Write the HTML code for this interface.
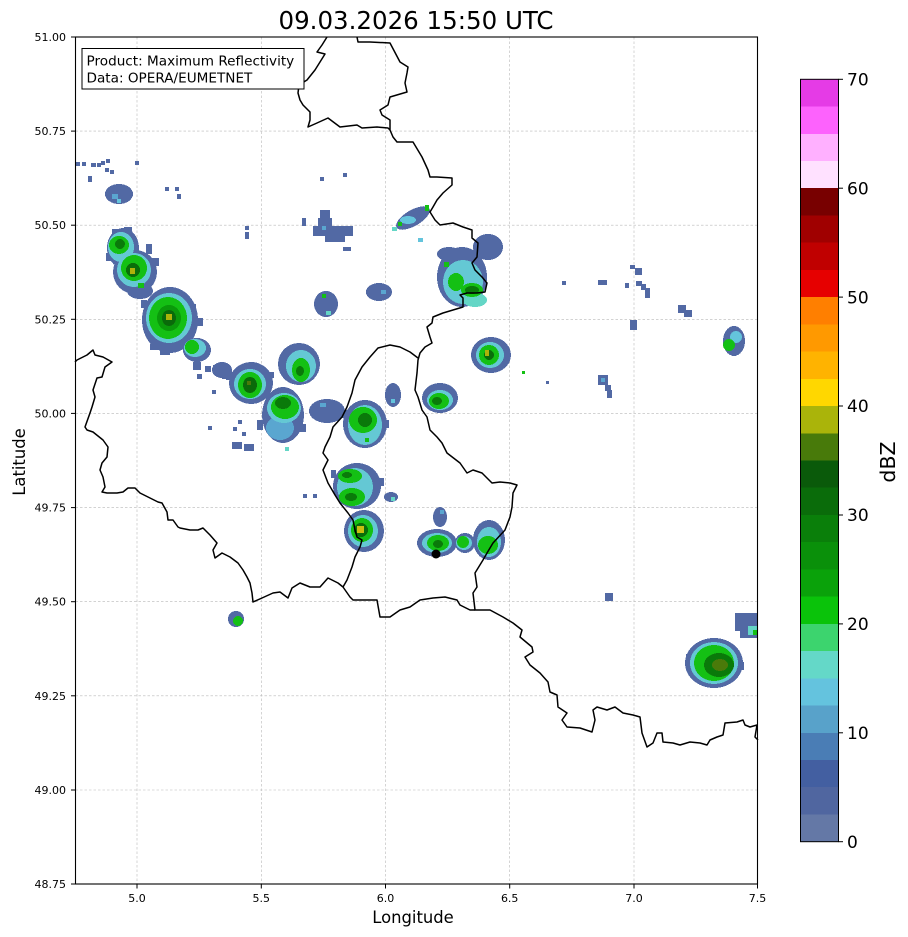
<!DOCTYPE html>
<html><head><meta charset="utf-8"><style>
html,body{margin:0;padding:0;background:#fff;}
svg{display:block;font-family:"DejaVu Sans","Liberation Sans",sans-serif;}
</style></head><body>
<svg width="908" height="937" viewBox="0 0 908 937" xmlns="http://www.w3.org/2000/svg">
<rect x="0" y="0" width="908" height="937" fill="#fff"/>
<!-- title -->
<text x="416" y="29" font-size="24.5" text-anchor="middle" fill="#000">09.03.2026 15:50 UTC</text>

<!-- gridlines -->
<g stroke="#b8b8b8" stroke-width="0.6" stroke-dasharray="2.5,2">
<line x1="137" y1="37" x2="137" y2="884"/>
<line x1="261.3" y1="37" x2="261.3" y2="884"/>
<line x1="385.5" y1="37" x2="385.5" y2="884"/>
<line x1="509.7" y1="37" x2="509.7" y2="884"/>
<line x1="634" y1="37" x2="634" y2="884"/>
<line x1="75.5" y1="131.1" x2="757.5" y2="131.1"/>
<line x1="75.5" y1="225.2" x2="757.5" y2="225.2"/>
<line x1="75.5" y1="319.3" x2="757.5" y2="319.3"/>
<line x1="75.5" y1="413.4" x2="757.5" y2="413.4"/>
<line x1="75.5" y1="507.6" x2="757.5" y2="507.6"/>
<line x1="75.5" y1="601.7" x2="757.5" y2="601.7"/>
<line x1="75.5" y1="695.8" x2="757.5" y2="695.8"/>
<line x1="75.5" y1="790" x2="757.5" y2="790"/>
</g>

<!-- radar -->
<g shape-rendering="crispEdges">
<!-- scattered blue dots -->
<g fill="#5269a4">
<rect x="75" y="162" width="5" height="4"/><rect x="82" y="162" width="4" height="4"/><rect x="91" y="163" width="5" height="4"/>
<rect x="97" y="163" width="4" height="4"/><rect x="101" y="161" width="4" height="4"/><rect x="106" y="159" width="4" height="4"/>
<rect x="105" y="168" width="4" height="4"/><rect x="110" y="170" width="4" height="4"/><rect x="88" y="176" width="4" height="6"/>
<rect x="135" y="161" width="4" height="4"/><rect x="165" y="187" width="4" height="4"/><rect x="175" y="187" width="4" height="4"/>
<rect x="177" y="194" width="4" height="5"/><rect x="245" y="226" width="4" height="4"/><rect x="245" y="232" width="4" height="7"/>
<rect x="320" y="177" width="4" height="4"/><rect x="343" y="173" width="4" height="4"/>
<rect x="193" y="362" width="8" height="8"/><rect x="205" y="366" width="6" height="6"/><rect x="213" y="365" width="10" height="8"/>
<rect x="222" y="371" width="10" height="8"/><rect x="197" y="374" width="5" height="5"/><rect x="212" y="390" width="4" height="4"/>
<rect x="208" y="426" width="4" height="4"/><rect x="233" y="427" width="4" height="4"/><rect x="238" y="420" width="4" height="4"/>
<rect x="242" y="432" width="4" height="4"/><rect x="232" y="442" width="10" height="7"/><rect x="244" y="444" width="10" height="7"/>
<rect x="303" y="494" width="4" height="4"/><rect x="313" y="494" width="4" height="4"/>
<rect x="562" y="281" width="4" height="4"/><rect x="598" y="280" width="9" height="5"/><rect x="630" y="265" width="5" height="4"/>
<rect x="635" y="268" width="7" height="7"/><rect x="625" y="283" width="4" height="5"/><rect x="636" y="281" width="6" height="5"/>
<rect x="641" y="284" width="5" height="6"/><rect x="645" y="288" width="5" height="10"/><rect x="678" y="305" width="8" height="8"/>
<rect x="684" y="310" width="8" height="7"/><rect x="630" y="320" width="7" height="10"/><rect x="598" y="375" width="10" height="10"/>
<rect x="605" y="385" width="6" height="6"/><rect x="607" y="390" width="5" height="8"/><rect x="546" y="381" width="3" height="3"/>
<rect x="605" y="593" width="8" height="8"/>
<!-- ragged edges -->
<rect x="106" y="253" width="6" height="8"/><rect x="146" y="244" width="6" height="10"/><rect x="151" y="258" width="8" height="8"/>
<rect x="112" y="229" width="8" height="6"/><rect x="124" y="227" width="8" height="5"/>
<rect x="141" y="300" width="6" height="8"/><rect x="195" y="318" width="8" height="8"/><rect x="190" y="304" width="6" height="6"/>
<rect x="150" y="344" width="8" height="6"/><rect x="160" y="349" width="10" height="6"/>
<rect x="257" y="420" width="6" height="10"/><rect x="300" y="424" width="6" height="8"/>
<rect x="331" y="470" width="5" height="8"/><rect x="378" y="478" width="6" height="8"/>
<rect x="226" y="374" width="6" height="6"/><rect x="268" y="372" width="6" height="6"/>
<rect x="341" y="410" width="6" height="8"/><rect x="384" y="420" width="5" height="8"/>
<rect x="686" y="654" width="6" height="8"/><rect x="738" y="662" width="6" height="8"/><rect x="712" y="640" width="8" height="5"/>
</g>
<rect x="522" y="371" width="3" height="3" fill="#14c014"/>
<rect x="601" y="378" width="4" height="4" fill="#5aa6d0"/>
<rect x="285" y="447" width="4" height="4" fill="#64d6c6"/>
<rect x="418" y="238" width="5" height="4" fill="#64c4dc"/>

<!-- TL blob -->
<ellipse cx="119" cy="194" rx="14" ry="10" fill="#5269a4"/>
<rect x="112" y="194" width="6" height="5" fill="#5aa6d0"/><rect x="117" y="199" width="4" height="4" fill="#64c4dc"/>

<!-- Cell A -->
<g fill="#5269a4"><ellipse cx="123" cy="248" rx="16" ry="20"/><ellipse cx="135" cy="272" rx="22" ry="22"/><ellipse cx="140" cy="291" rx="13" ry="8"/></g>
<g fill="#64c8d4"><ellipse cx="121" cy="247" rx="13" ry="15"/><ellipse cx="134" cy="270" rx="17" ry="17"/></g>
<g fill="#14c014"><ellipse cx="119" cy="245" rx="10" ry="9"/><ellipse cx="134" cy="268" rx="13" ry="13"/><rect x="138" y="283" width="6" height="5"/></g>
<ellipse cx="120" cy="244" rx="5" ry="5" fill="#0a7a0a"/>
<ellipse cx="133" cy="270" rx="7" ry="7" fill="#0a6e0a"/>
<rect x="130" y="268" width="5" height="6" fill="#adb30a"/>

<!-- Cell B -->
<g fill="#5269a4"><ellipse cx="170" cy="320" rx="28" ry="33"/><ellipse cx="197" cy="350" rx="14" ry="12"/></g>
<g fill="#64c8d4"><ellipse cx="169" cy="318" rx="23" ry="25"/><ellipse cx="195" cy="348" rx="11" ry="9"/></g>
<g fill="#14c014"><ellipse cx="168" cy="318" rx="19" ry="21"/><ellipse cx="192" cy="347" rx="7" ry="7"/></g>
<ellipse cx="169" cy="318" rx="12" ry="13" fill="#0a9a0a"/>
<ellipse cx="169" cy="318" rx="7" ry="8" fill="#0a6a0a"/>
<rect x="166" y="314" width="6" height="6" fill="#adb30a"/>

<!-- Cell 3 -->
<g fill="#5269a4"><ellipse cx="251" cy="383" rx="22" ry="21"/><ellipse cx="222" cy="370" rx="10" ry="8"/></g>
<ellipse cx="250" cy="384" rx="16" ry="15" fill="#64c8d4"/>
<ellipse cx="250" cy="385" rx="12" ry="13" fill="#14c014"/>
<ellipse cx="250" cy="385" rx="7" ry="8" fill="#0a6a0a"/>
<rect x="247" y="381" width="4" height="4" fill="#4a7a0a"/>

<!-- Cell 4 -->
<ellipse cx="283" cy="415" rx="21" ry="28" fill="#5269a4"/>
<ellipse cx="280" cy="428" rx="14" ry="12" fill="#5aa6d0"/>
<ellipse cx="284" cy="408" rx="17" ry="15" fill="#64c8d4"/>
<ellipse cx="285" cy="407" rx="14" ry="12" fill="#14c014"/>
<ellipse cx="283" cy="403" rx="8" ry="6" fill="#0a7a0a"/>

<!-- Cell 5 -->
<ellipse cx="299" cy="364" rx="21" ry="21" fill="#5269a4"/>
<ellipse cx="301" cy="366" rx="15" ry="16" fill="#64c8d4"/>
<ellipse cx="301" cy="370" rx="9" ry="12" fill="#14c014"/>
<ellipse cx="300" cy="371" rx="4" ry="5" fill="#0a7a0a"/>

<!-- blue patch between -->
<ellipse cx="327" cy="411" rx="18" ry="12" fill="#5269a4"/>
<rect x="320" y="403" width="6" height="4" fill="#5aa6d0"/>

<!-- Cell 8 -->
<ellipse cx="365" cy="424" rx="22" ry="24" fill="#5269a4"/>
<ellipse cx="365" cy="425" rx="17" ry="20" fill="#64c8d4"/>
<ellipse cx="363" cy="420" rx="14" ry="13" fill="#14c014"/>
<ellipse cx="365" cy="420" rx="7" ry="7" fill="#0a7a0a"/>
<rect x="365" y="438" width="4" height="4" fill="#14c014"/>

<!-- Cell 9a -->
<ellipse cx="491" cy="355" rx="20" ry="18" fill="#5269a4"/>
<ellipse cx="490" cy="355" rx="14" ry="13" fill="#64c8d4"/>
<ellipse cx="489" cy="355" rx="10" ry="10" fill="#14c014"/>
<ellipse cx="489" cy="355" rx="5" ry="5" fill="#0a6e0a"/>
<rect x="485" y="350" width="4" height="6" fill="#adb30a"/>

<!-- Cell 9b -->
<ellipse cx="440" cy="398" rx="18" ry="15" fill="#5269a4"/>
<ellipse cx="440" cy="400" rx="13" ry="10" fill="#64c8d4"/>
<ellipse cx="439" cy="401" rx="10" ry="8" fill="#14c014"/>
<ellipse cx="437" cy="401" rx="5" ry="4" fill="#0a7a0a"/>

<!-- Cell 9c -->
<ellipse cx="357" cy="486" rx="24" ry="23" fill="#5269a4"/>
<ellipse cx="355" cy="487" rx="18" ry="19" fill="#64c8d4"/>
<ellipse cx="350" cy="476" rx="12" ry="7" fill="#14c014"/>
<ellipse cx="352" cy="497" rx="13" ry="9" fill="#14c014"/>
<ellipse cx="347" cy="475" rx="5" ry="3" fill="#0a7a0a"/>
<ellipse cx="351" cy="497" rx="6" ry="4" fill="#0a7a0a"/>

<!-- Cell 9d -->
<ellipse cx="364" cy="531" rx="20" ry="21" fill="#5269a4"/>
<ellipse cx="363" cy="531" rx="15" ry="16" fill="#64c8d4"/>
<ellipse cx="362" cy="530" rx="11" ry="12" fill="#14c014"/>
<ellipse cx="361" cy="530" rx="7" ry="7" fill="#0a6e0a"/>
<rect x="357" y="526" width="7" height="7" fill="#c8c010"/>

<!-- Cell 9e,f,g -->
<ellipse cx="440" cy="517" rx="7" ry="10" fill="#5269a4"/>
<ellipse cx="437" cy="543" rx="20" ry="14" fill="#5269a4"/>
<ellipse cx="465" cy="543" rx="10" ry="10" fill="#5269a4"/>
<ellipse cx="489" cy="540" rx="16" ry="20" fill="#5269a4"/>
<ellipse cx="437" cy="543" rx="15" ry="10" fill="#64c8d4"/>
<ellipse cx="464" cy="543" rx="8" ry="7" fill="#64c8d4"/>
<ellipse cx="489" cy="542" rx="12" ry="15" fill="#64c8d4"/>
<ellipse cx="438" cy="543" rx="11" ry="8" fill="#14c014"/>
<ellipse cx="463" cy="542" rx="6" ry="6" fill="#14c014"/>
<ellipse cx="488" cy="545" rx="10" ry="9" fill="#14c014"/>
<ellipse cx="438" cy="544" rx="5" ry="4" fill="#0a7a0a"/>
<rect x="440" y="510" width="4" height="4" fill="#5aa6d0"/>

<!-- small patches -->
<ellipse cx="391" cy="497" rx="7" ry="5" fill="#5269a4"/>
<rect x="391" y="497" width="4" height="4" fill="#64d6c6"/>
<ellipse cx="393" cy="395" rx="8" ry="12" fill="#5269a4"/>
<rect x="391" y="399" width="4" height="4" fill="#64c4dc"/>

<!-- Cluster 10a -->
<g fill="#5269a4">
<rect x="320" y="210" width="10" height="8"/><rect x="318" y="218" width="14" height="10"/>
<rect x="313" y="226" width="40" height="10"/><rect x="325" y="236" width="20" height="6"/>
<rect x="302" y="218" width="4" height="8"/><rect x="343" y="247" width="8" height="4"/>
</g>
<rect x="322" y="226" width="4" height="4" fill="#5aa6d0"/>

<!-- Cluster 10b -->
<ellipse cx="413" cy="218" rx="19" ry="8" fill="#5269a4" transform="rotate(-30 413 218)"/>
<ellipse cx="408" cy="220" rx="8" ry="4" fill="#64c4dc"/>
<rect x="425" y="205" width="4" height="6" fill="#14c014"/>
<rect x="398" y="222" width="4" height="4" fill="#14c014"/>
<rect x="392" y="227" width="5" height="4" fill="#64d6c6"/>

<!-- Cell 10c/d/e/f -->
<ellipse cx="488" cy="247" rx="15" ry="13" fill="#5269a4"/>
<ellipse cx="462" cy="277" rx="25" ry="30" fill="#5269a4"/>
<ellipse cx="449" cy="254" rx="12" ry="7" fill="#5269a4"/>
<ellipse cx="463" cy="282" rx="20" ry="22" fill="#64c8d4"/>
<ellipse cx="475" cy="300" rx="12" ry="7" fill="#64d6c6"/>
<ellipse cx="456" cy="282" rx="8" ry="9" fill="#14c014"/>
<ellipse cx="472" cy="290" rx="11" ry="7" fill="#14c014"/>
<ellipse cx="472" cy="290" rx="7" ry="4" fill="#0a7a0a"/>
<rect x="444" y="262" width="5" height="5" fill="#14c014"/>
<ellipse cx="379" cy="292" rx="13" ry="9" fill="#5269a4"/>
<rect x="381" y="290" width="5" height="4" fill="#5aa6d0"/>
<ellipse cx="326" cy="304" rx="12" ry="13" fill="#5269a4"/>
<rect x="322" y="294" width="4" height="4" fill="#14c014"/>
<rect x="326" y="311" width="5" height="4" fill="#64d6c6"/>

<!-- Right cell -->
<ellipse cx="734" cy="341" rx="11" ry="15" fill="#5269a4"/>
<ellipse cx="736" cy="337" rx="6" ry="6" fill="#64c4dc"/>
<ellipse cx="729" cy="345" rx="6" ry="6" fill="#14c014"/>

<!-- Lower right big cell -->
<ellipse cx="714" cy="663" rx="29" ry="25" fill="#5269a4"/>
<ellipse cx="714" cy="663" rx="24" ry="21" fill="#64c8d4"/>
<ellipse cx="714" cy="663" rx="20" ry="18" fill="#14c014"/>
<ellipse cx="719" cy="665" rx="15" ry="12" fill="#0a7a0a"/>
<ellipse cx="720" cy="665" rx="8" ry="6" fill="#4a7a0a"/>
<!-- edge cell -->
<rect x="735" y="613" width="22" height="18" fill="#5269a4"/>
<rect x="740" y="628" width="17" height="10" fill="#5269a4"/>
<rect x="748" y="626" width="9" height="9" fill="#64d6c6"/>
<rect x="753" y="630" width="4" height="5" fill="#14c014"/>
<!-- cell 12 -->
<ellipse cx="236" cy="619" rx="8" ry="8" fill="#5269a4"/>
<ellipse cx="238" cy="621" rx="5" ry="5" fill="#14c014"/>
</g>

<!-- borders -->
<g fill="none" stroke="#000" stroke-width="1.5" stroke-linejoin="round">
<polyline points="327,37 322,45 317,52 325,54 315,70 307,80 299,85 298,93 300,100 303,105 310,112 310,120 308,127 317,123 328,118 340,127 357,125 362,128 377,127 388,128 390,130"/>
<polyline points="357,37 358,42 370,42 390,43 400,62 408,67 407,73 405,83 407,92 390,97 388,105 380,110 382,115 390,120 390,130 393,137 397,142 413,142 422,157 428,170 430,177 437,177 452,178 452,185 443,193 437,200 433,207 430,212 435,220 440,225 453,223 463,227 472,230 472,238 478,243 477,257 472,263 475,270 482,277 487,283 485,292 477,293 467,293 460,295 463,298 463,307 453,310 443,313 433,317 432,323 427,327 430,337 432,343 425,347 420,353 418,360 417,373 415,390 418,397 422,410 427,417 430,430 437,437 442,443 447,453 460,463 467,473 473,470 482,473 492,483 500,482 510,483 517,485 513,493 512,507 510,517 505,530 493,543 487,553 483,560 475,573 477,587 473,593 475,610 490,610 503,617 513,623 522,630 520,637 532,647 533,652 525,657 530,665 540,673 548,682 550,692 557,695 558,707 567,713 562,720 567,727 580,728 592,732 595,720 593,710 597,707 607,710 615,707 623,713 633,715 640,717 642,733 647,747 653,743 657,733 662,733 663,742 673,743 680,745 690,742 700,743 707,745 710,740 717,737 723,735 725,723 737,722 743,720 745,725 750,727 757,725 755,737 758,740"/>
<polyline points="475,610 470,610 460,605 457,600 445,597 433,598 420,600 410,607 400,610 390,617 380,617 377,600 353,600 350,597 343,587"/>
<polyline points="343,587 347,580 352,567 355,557 360,547 362,540 357,537 355,530 353,520 348,513 340,503 335,495 328,483 323,470 328,460 323,453 325,447 330,437 333,427 342,417 347,407 352,393 355,380 362,367 370,357 378,348 390,345 400,347 410,352 418,358"/>
<polyline points="75,362 77,360 87,355 93,350 95,355 103,357 112,362 105,367 102,377 97,378 93,390 95,397 92,407 90,413 85,427 87,430 93,432 103,440 108,447 107,457 102,463 100,470 103,477 105,487 102,492 107,493 117,493 123,492 128,488 135,488 140,493 150,498 158,502 162,503 167,512 168,520 173,520 178,527 180,528 190,530 198,530 203,528 210,535 217,543 213,550 215,558 222,553 230,557 238,563 243,570 247,577 250,583 252,593 253,602 262,598 273,593 280,592 288,598 292,588 300,583 310,587 320,587 328,578 338,583 343,587"/>
</g>
<circle cx="436" cy="554" r="4.5" fill="#000"/>

<!-- axes frame -->
<rect x="75.5" y="37" width="682" height="847" fill="none" stroke="#000" stroke-width="1.1"/>

<!-- legend box -->
<rect x="82" y="48.5" width="222" height="40.5" fill="#fff" stroke="#000" stroke-width="1"/>
<text x="86.5" y="65.5" font-size="13.6" fill="#000">Product: Maximum Reflectivity</text>
<text x="86.5" y="82.3" font-size="13.6" fill="#000">Data: OPERA/EUMETNET</text>

<!-- y ticks -->
<g stroke="#000" stroke-width="1">
<line x1="71" y1="37" x2="75.5" y2="37"/><line x1="71" y1="131.1" x2="75.5" y2="131.1"/><line x1="71" y1="225.2" x2="75.5" y2="225.2"/>
<line x1="71" y1="319.3" x2="75.5" y2="319.3"/><line x1="71" y1="413.4" x2="75.5" y2="413.4"/><line x1="71" y1="507.6" x2="75.5" y2="507.6"/>
<line x1="71" y1="601.7" x2="75.5" y2="601.7"/><line x1="71" y1="695.8" x2="75.5" y2="695.8"/><line x1="71" y1="790" x2="75.5" y2="790"/>
<line x1="71" y1="884" x2="75.5" y2="884"/>
<line x1="137" y1="884" x2="137" y2="888.5"/><line x1="261.3" y1="884" x2="261.3" y2="888.5"/><line x1="385.5" y1="884" x2="385.5" y2="888.5"/>
<line x1="509.7" y1="884" x2="509.7" y2="888.5"/><line x1="634" y1="884" x2="634" y2="888.5"/><line x1="757.5" y1="884" x2="757.5" y2="888.5"/>
</g>
<g font-size="11" fill="#000" text-anchor="end">
<text x="66" y="41">51.00</text><text x="66" y="135.1">50.75</text><text x="66" y="229.2">50.50</text>
<text x="66" y="323.3">50.25</text><text x="66" y="417.4">50.00</text><text x="66" y="511.6">49.75</text>
<text x="66" y="605.7">49.50</text><text x="66" y="699.8">49.25</text><text x="66" y="794">49.00</text>
<text x="66" y="888">48.75</text>
</g>
<g font-size="11" fill="#000" text-anchor="middle">
<text x="137" y="902">5.0</text><text x="261.3" y="902">5.5</text><text x="385.5" y="902">6.0</text>
<text x="509.7" y="902">6.5</text><text x="634" y="902">7.0</text><text x="757.5" y="902">7.5</text>
</g>
<text x="413" y="923" font-size="16.4" text-anchor="middle" fill="#000">Longitude</text>
<text transform="translate(25 462) rotate(-90)" font-size="16.4" text-anchor="middle" fill="#000">Latitude</text>

<!-- colorbar -->
<g shape-rendering="crispEdges">
<rect x="800.5" y="79.30" width="38" height="27.3" fill="#e53be6"/>
<rect x="800.5" y="106.53" width="38" height="27.3" fill="#fd62fd"/>
<rect x="800.5" y="133.76" width="38" height="27.3" fill="#ffb0ff"/>
<rect x="800.5" y="160.99" width="38" height="27.3" fill="#ffe1ff"/>
<rect x="800.5" y="188.21" width="38" height="27.3" fill="#780000"/>
<rect x="800.5" y="215.44" width="38" height="27.3" fill="#a00000"/>
<rect x="800.5" y="242.67" width="38" height="27.3" fill="#c00000"/>
<rect x="800.5" y="269.90" width="38" height="27.3" fill="#e60000"/>
<rect x="800.5" y="297.13" width="38" height="27.3" fill="#ff7f00"/>
<rect x="800.5" y="324.36" width="38" height="27.3" fill="#ff9900"/>
<rect x="800.5" y="351.59" width="38" height="27.3" fill="#ffb300"/>
<rect x="800.5" y="378.81" width="38" height="27.3" fill="#ffd700"/>
<rect x="800.5" y="406.04" width="38" height="27.3" fill="#aab40a"/>
<rect x="800.5" y="433.27" width="38" height="27.3" fill="#487a0a"/>
<rect x="800.5" y="460.50" width="38" height="27.3" fill="#0a5a0a"/>
<rect x="800.5" y="487.73" width="38" height="27.3" fill="#0a6c0a"/>
<rect x="800.5" y="514.96" width="38" height="27.3" fill="#0a7f0a"/>
<rect x="800.5" y="542.19" width="38" height="27.3" fill="#0a900a"/>
<rect x="800.5" y="569.41" width="38" height="27.3" fill="#0aa20a"/>
<rect x="800.5" y="596.64" width="38" height="27.3" fill="#0ac30a"/>
<rect x="800.5" y="623.87" width="38" height="27.3" fill="#3cd46e"/>
<rect x="800.5" y="651.10" width="38" height="27.3" fill="#64d8c8"/>
<rect x="800.5" y="678.33" width="38" height="27.3" fill="#64c3de"/>
<rect x="800.5" y="705.56" width="38" height="27.3" fill="#58a2ca"/>
<rect x="800.5" y="732.79" width="38" height="27.3" fill="#4a7db5"/>
<rect x="800.5" y="760.01" width="38" height="27.3" fill="#435fa1"/>
<rect x="800.5" y="787.24" width="38" height="27.3" fill="#5066a0"/>
<rect x="800.5" y="814.47" width="38" height="27.23" fill="#6478a6"/>
</g>
<rect x="800.5" y="79.3" width="38" height="762.4" fill="none" stroke="#000" stroke-width="1"/>
<g stroke="#000" stroke-width="1">
<line x1="838.5" y1="79.3" x2="843" y2="79.3"/><line x1="838.5" y1="188.2" x2="843" y2="188.2"/>
<line x1="838.5" y1="297.1" x2="843" y2="297.1"/><line x1="838.5" y1="406.0" x2="843" y2="406.0"/>
<line x1="838.5" y1="515.0" x2="843" y2="515.0"/><line x1="838.5" y1="623.9" x2="843" y2="623.9"/>
<line x1="838.5" y1="732.8" x2="843" y2="732.8"/><line x1="838.5" y1="841.7" x2="843" y2="841.7"/>
</g>
<g font-size="17" fill="#000">
<text x="847" y="85.5">70</text><text x="847" y="194.4">60</text><text x="847" y="303.3">50</text>
<text x="847" y="412.2">40</text><text x="847" y="521.2">30</text><text x="847" y="630.1">20</text>
<text x="847" y="739">10</text><text x="847" y="847.9">0</text>
</g>
<text transform="translate(895 462) rotate(-90)" font-size="20.5" text-anchor="middle" fill="#000">dBZ</text>
</svg>
</body></html>
